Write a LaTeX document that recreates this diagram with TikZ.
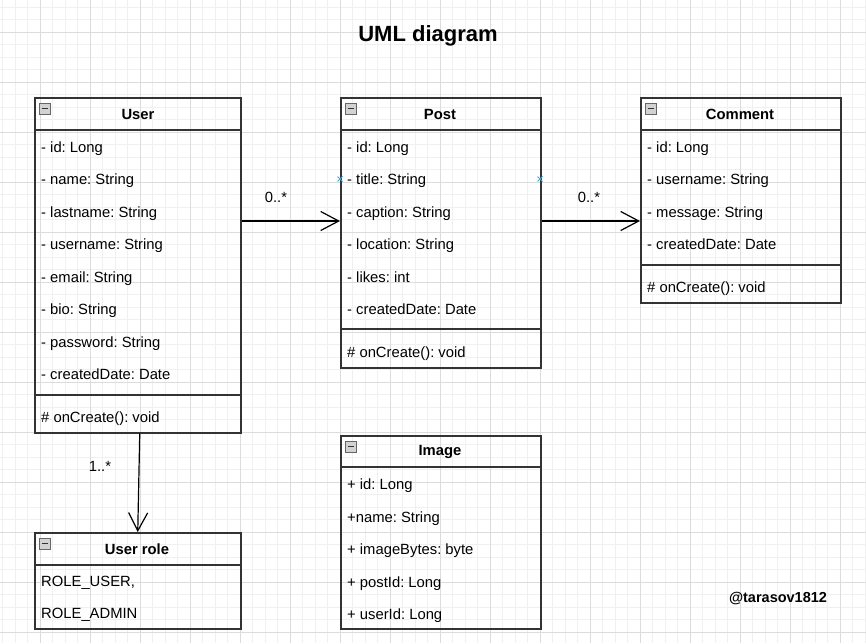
\documentclass[tikz,border=0pt]{standalone}
\usepackage{fontspec}
\setmainfont{Liberation Sans}
\usetikzlibrary{arrows.meta}
\definecolor{gridmajor}{HTML}{DCDCDC}
\definecolor{gridminor}{HTML}{F0F0F0}
\definecolor{edgecol}{HTML}{333333}
\definecolor{portblue}{HTML}{3FA9E0}
\tikzset{
  classbox/.style={draw=edgecol, line width=1.5pt, fill=none, anchor=north west, inner sep=0pt},
  sepline/.style={draw=edgecol, line width=1.3pt},
  attr/.style={anchor=west, inner sep=0pt, text height=11pt, text depth=3pt, yshift=-1pt, font=\fontsize{14.8}{17}\selectfont},
  head/.style={inner sep=0pt, font=\bfseries\fontsize{14.8}{17}\selectfont},
  lbl/.style={inner sep=0pt, font=\fontsize{14.8}{17}\selectfont},
  assoc/.style={draw=black, line width=1.2pt, -{Straight Barb[length=18pt,width=19pt,line width=1.2pt]}},
  iconbox/.style={draw=gray!80!black, fill=gray!35, line width=0.6pt},
  portx/.style={draw=portblue, line width=1pt}
}
\newcommand{\classicon}[2]{%
  \draw[iconbox] (#1,#2) rectangle ++(11,11);
  \draw[black!80, line width=1.2pt] (#1+2.5,#2+5.5) -- ++(6,0);
}
\newcommand{\portmark}[2]{%
  \draw[portx] (#1-2.5,#2-2.5) -- (#1+2.5,#2+2.5) (#1-2.5,#2+2.5) -- (#1+2.5,#2-2.5);
}
\begin{document}
\frenchspacing
\begin{tikzpicture}[x=1pt,y=-1pt]
\useasboundingbox (0,0) rectangle (866,643);
\fill[white] (0,0) rectangle (866,643);
% grid
\foreach \i in {0,...,70} {
  \draw[gridminor, line width=0.8pt] ({2.5+12.5*\i},0) -- ({2.5+12.5*\i},643);
}
\foreach \i in {0,...,52} {
  \draw[gridminor, line width=0.8pt] (0,{7+12.5*\i}) -- (866,{7+12.5*\i});
}
\foreach \i in {0,...,17} {
  \draw[gridmajor, line width=1pt] ({40+50*\i},0) -- ({40+50*\i},643);
}
\foreach \i in {0,...,12} {
  \draw[gridmajor, line width=1pt] (0,{32+50*\i}) -- (866,{32+50*\i});
}

% title
\node[inner sep=0pt, font=\bfseries\fontsize{22}{26}\selectfont] (title) at (428,36) {UML diagram};

% ---------- User ----------
\node[classbox, minimum width=206pt, minimum height=335pt] (user) at (34,97) {};
\draw[sepline] (34,130) -- (240,130);
\draw[sepline] (34,395) -- (240,395);
\classicon{39}{103}
\node[head] (userh) at (138,114) {User};
\node[attr] (u1) at (41,147) {- id: Long};
\node[attr] (u2) at (41,179) {- name: String};
\node[attr] (u3) at (41,212) {- lastname: String};
\node[attr] (u4) at (41,244) {- username: String};
\node[attr] (u5) at (41,277) {- email: String};
\node[attr] (u6) at (41,309) {- bio: String};
\node[attr] (u7) at (41,342) {- password: String};
\node[attr] (u8) at (41,374) {- createdDate: Date};
\node[attr] (u9) at (41,417) {\# onCreate(): void};

% ---------- Post ----------
\node[classbox, minimum width=200pt, minimum height=270pt] (post) at (340,97) {};
\draw[sepline] (340,130) -- (540,130);
\draw[sepline] (340,329) -- (540,329);
\classicon{345}{103}
\node[head] (posth) at (440,114) {Post};
\node[attr] (p1) at (347,147) {- id: Long};
\node[attr] (p2) at (347,179) {- title: String};
\node[attr] (p3) at (347,212) {- caption: String};
\node[attr] (p4) at (347,244) {- location: String};
\node[attr] (p5) at (347,277) {- likes: int};
\node[attr] (p6) at (347,309) {- createdDate: Date};
\node[attr] (p7) at (347,352) {\# onCreate(): void};

% ---------- Comment ----------
\node[classbox, minimum width=200pt, minimum height=205pt] (comment) at (640,97) {};
\draw[sepline] (640,130) -- (840,130);
\draw[sepline] (640,265) -- (840,265);
\classicon{645}{103}
\node[head] (commenth) at (740,114) {Comment};
\node[attr] (c1) at (647,147) {- id: Long};
\node[attr] (c2) at (647,179) {- username: String};
\node[attr] (c3) at (647,212) {- message: String};
\node[attr] (c4) at (647,244) {- createdDate: Date};
\node[attr] (c5) at (647,287) {\# onCreate(): void};

% ---------- Image ----------
\node[classbox, minimum width=200pt, minimum height=193pt] (image) at (340,435) {};
\draw[sepline] (340,467) -- (540,467);
\classicon{345}{441}
\node[head] (imageh) at (440,452) {Image};
\node[attr] (i1) at (347,484) {+ id: Long};
\node[attr] (i2) at (347,517) {+name: String};
\node[attr] (i3) at (347,549) {+ imageBytes: byte};
\node[attr] (i4) at (347,582) {+ postId: Long};
\node[attr] (i5) at (347,614) {+ userId: Long};

% ---------- User role ----------
\node[classbox, minimum width=206pt, minimum height=96pt] (role) at (34,532) {};
\draw[sepline] (34,565) -- (240,565);
\classicon{39}{538}
\node[head] (roleh) at (137,549) {User role};
\node[attr] (r1) at (41,581) {ROLE\_USER,};
\node[attr] (r2) at (41,613) {ROLE\_ADMIN};

% ---------- connectors ----------
\coordinate (upy) at (0,221);
\draw[assoc] (user.east |- upy) -- (post.west |- upy);
\draw[assoc] (post.east |- upy) -- (comment.west |- upy);
\draw[assoc] ([xshift=2pt]user.south) -- (role.north);
\node[lbl] (l1) at (276,197) {0..*};
\node[lbl] (l2) at (589,197) {0..*};
\node[lbl] (l3) at (100,466) {1..*};

% port marks
\portmark{340}{179}
\portmark{540}{179}

% watermark
\node[inner sep=0pt, font=\bfseries\fontsize{14.5}{17}\selectfont] (wm) at (778,598) {@tarasov1812};
\end{tikzpicture}
\end{document}
